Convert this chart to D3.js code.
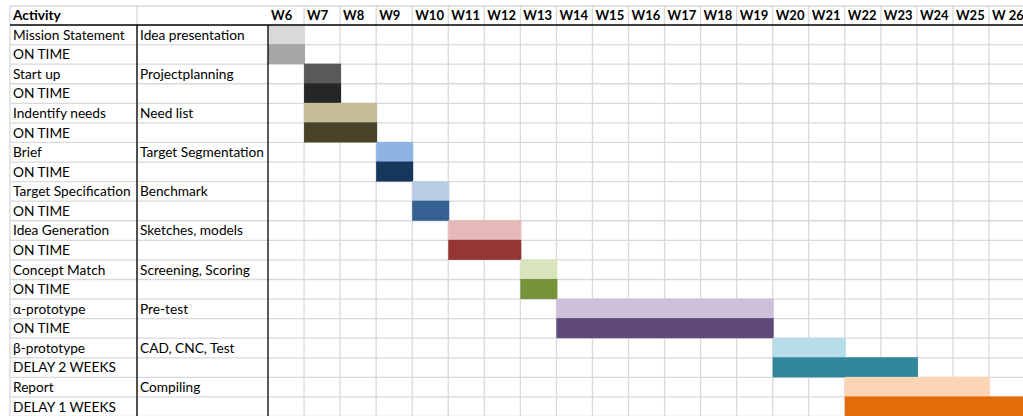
<!DOCTYPE html>
<html>
<head>
<meta charset="utf-8">
<script src="https://cdn.jsdelivr.net/npm/d3@7"></script>
<style>
  body { margin: 0; background: #fff; }
  text { font-family: Lato, "Open Sans", sans-serif; fill: #000; }
</style>
</head>
<body>
<div id="chart"></div>
<script>
const weeks = ["W6", "W7", "W8", "W9", "W10", "W11", "W12", "W13", "W14", "W15", "W16",
  "W17", "W18", "W19", "W20", "W21", "W22", "W23", "W24", "W25", "W 26"];
const activities = ["Mission Statement", "Start up", "Indentify needs", "Brief", "Target Specification",
  "Idea Generation", "Concept Match", "α-prototype", "β-prototype", "Report"];
const descriptions = ["Idea presentation", "Projectplanning", "Need list", "Target Segmentation", "Benchmark",
  "Sketches, models", "Screening, Scoring", "Pre-test", "CAD, CNC, Test", "Compiling"];
const statuses = ["ON TIME", "ON TIME", "ON TIME", "ON TIME", "ON TIME",
  "ON TIME", "ON TIME", "ON TIME", "DELAY 2 WEEKS", "DELAY 1 WEEKS"];
// planned start week / number of weeks
const planStart = ["W6", "W7", "W7", "W9", "W10", "W11", "W13", "W14", "W20", "W22"];
const planWeeks = [1, 1, 2, 1, 1, 2, 1, 6, 2, 4];
// actual start week / number of weeks
const actualStart = ["W6", "W7", "W7", "W9", "W10", "W11", "W13", "W14", "W20", "W22"];
const actualWeeks = [1, 1, 2, 1, 1, 2, 1, 6, 4, 5];
const planColors = ["#d9d9d9", "#595959", "#c4bd97", "#8db4e2", "#b8cce4",
  "#e6b8b7", "#d8e4bc", "#ccc0da", "#b7dee8", "#fcd5b4"];
const actualColors = ["#a6a6a6", "#262626", "#494429", "#16365c", "#366092",
  "#963634", "#76933c", "#60497a", "#31869b", "#e26b0a"];

const W = 1023, H = 416;
const left = 10, descX = 137, weekX = 268, headTop = 6, headBottom = 25;
const fontSize = "13.7px";

const svg = d3.select("#chart").append("svg")
  .attr("width", W)
  .attr("height", H);

// two rows per activity: plan row then status row
const rows = [];
activities.forEach((a, i) => {
  rows.push({ key: "p" + i, label: a, desc: descriptions[i], start: planStart[i], n: planWeeks[i], color: planColors[i] });
  rows.push({ key: "a" + i, label: statuses[i], desc: "", start: actualStart[i], n: actualWeeks[i], color: actualColors[i] });
});

const x = d3.scaleBand()
  .domain(weeks)
  .range([weekX, weekX + weeks.length * 36.05]);

const y = d3.scaleBand()
  .domain(rows.map(d => d.key))
  .range([headBottom, H + 0.5]);

const grid = svg.append("g")
  .attr("stroke", "#d9d9d9")
  .attr("stroke-width", 1.3);

// horizontal grid lines
grid.selectAll("line.h")
  .data([headTop].concat(rows.map(d => y(d.key) + y.bandwidth())))
  .enter().append("line")
  .attr("x1", left).attr("x2", W)
  .attr("y1", d => d).attr("y2", d => d);

// vertical grid lines
grid.selectAll("line.v")
  .data([left, descX].concat(weeks.map(w => x(w) + x.bandwidth())))
  .enter().append("line")
  .attr("x1", d => d).attr("x2", d => d)
  .attr("y1", headTop).attr("y2", H);

// bars
svg.append("g").selectAll("rect")
  .data(rows)
  .enter().append("rect")
  .attr("x", d => x(d.start))
  .attr("y", d => y(d.key) - 0.5)
  .attr("width", d => d.n * x.bandwidth() + 1)
  .attr("height", y.bandwidth() + 0.5)
  .attr("fill", d => d.color);

// black borders
const border = svg.append("g").attr("stroke", "#000").attr("stroke-width", 1.3);
border.append("line")
  .attr("x1", left).attr("x2", W)
  .attr("y1", headBottom).attr("y2", headBottom);
[descX, weekX].forEach(v => {
  border.append("line")
    .attr("x1", v).attr("x2", v)
    .attr("y1", headBottom).attr("y2", H);
});

// header text
svg.append("text")
  .attr("x", left + 3)
  .attr("y", (headTop + headBottom) / 2)
  .attr("dy", "0.36em")
  .style("font-size", fontSize)
  .style("font-weight", "bold")
  .text("Activity");

svg.append("g").selectAll("text")
  .data(weeks)
  .enter().append("text")
  .attr("x", d => x(d) + 3)
  .attr("y", (headTop + headBottom) / 2)
  .attr("dy", "0.36em")
  .style("font-size", "13px")
  .style("font-weight", "bold")
  .text(d => d);

// row labels
const labels = svg.append("g");
labels.selectAll("text.lab")
  .data(rows)
  .enter().append("text")
  .attr("x", left + 3)
  .attr("y", d => y(d.key) + y.bandwidth() / 2)
  .attr("dy", "0.36em")
  .style("font-size", fontSize)
  .text(d => d.label);

labels.selectAll("text.desc")
  .data(rows.filter(d => d.desc))
  .enter().append("text")
  .attr("x", descX + 3)
  .attr("y", d => y(d.key) + y.bandwidth() / 2)
  .attr("dy", "0.36em")
  .style("font-size", fontSize)
  .text(d => d.desc);
</script>
</body>
</html>
